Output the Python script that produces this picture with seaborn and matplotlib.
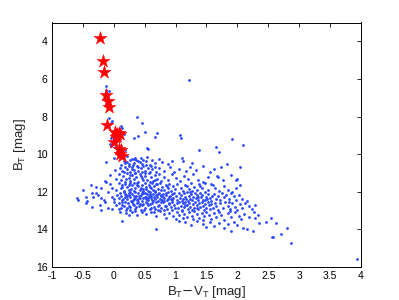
import seaborn as sns
import matplotlib.pyplot as plt
import pandas as pd

# Red stars (B_T - V_T, B_T)
red_stars = [(-0.22, 3.85), (-0.18, 5.03), (-0.16, 5.63), (-0.13, 6.84), (-0.10, 7.18),
             (-0.08, 7.50), (-0.11, 8.45), (0.02, 8.80), (0.05, 8.95), (0.08, 8.85),
             (0.04, 9.10), (0.10, 8.95), (0.00, 9.35), (0.08, 9.70), (0.12, 9.80),
             (0.10, 10.00), (0.13, 10.10), (0.06, 9.05)]

# field stars, upper branch and sparse upper part
branch = [(-0.12, 6.38), (-0.13, 6.57), (-0.08, 6.66), (-0.14, 7.05), (-0.11, 7.3), (-0.07, 8.08),
          (-0.03, 8.22), (-0.05, 8.35), (0.12, 8.52), (0.13, 8.62), (0.15, 8.80), (0.16, 8.93),
          (-0.04, 9.12), (-0.06, 9.45), (-0.05, 9.57), (0.18, 9.76), (0.22, 10.10), (0.29, 10.24),
          (0.32, 10.26), (0.32, 9.14), (0.38, 8.0), (0.40, 9.05), (0.35, 10.2), (1.22, 6.04),
          (0.46, 8.33), (0.50, 8.82), (0.70, 8.88), (0.67, 9.09), (1.07, 9.0), (1.08, 9.16),
          (0.54, 9.67), (0.55, 9.70), (1.38, 9.76), (0.44, 10.22), (0.54, 10.15), (0.73, 10.26),
          (1.11, 10.19), (1.91, 9.2), (1.65, 9.6), (2.09, 9.53), (1.71, 9.89), (0.02, 9.6),
          (0.05, 9.9), (0.0, 10.2), (-0.13, 10.42)]

band_a = [(0.16, 10.35), (0.21, 10.41), (0.27, 10.33), (0.33, 10.47), (0.39, 10.38), (0.45, 10.52),
          (0.24, 10.55), (0.18, 10.49), (0.52, 10.36), (0.58, 10.58), (0.31, 10.58), (0.42, 10.44),
          (0.12, 10.56), (0.48, 10.30), (0.66, 10.45), (0.78, 10.40), (0.95, 10.35), (1.12, 10.38),
          (1.26, 10.47), (0.88, 10.55), (1.45, 10.63), (1.73, 10.68), (1.83, 10.54), (2.04, 10.68),
          (0.62, 10.31), (0.36, 10.30)]

band_b = [(0.10, 10.72), (0.14, 10.88), (0.19, 10.66), (0.22, 10.80), (0.26, 10.95), (0.29, 10.70),
          (0.33, 10.85), (0.37, 10.62), (0.40, 10.92), (0.44, 10.75), (0.47, 10.64), (0.51, 10.88),
          (0.55, 10.71), (0.58, 10.97), (0.62, 10.80), (0.66, 10.66), (0.69, 10.93), (0.24, 10.62),
          (0.35, 10.98), (0.45, 10.96), (0.17, 10.95), (0.30, 10.78), (0.53, 10.60), (0.74, 10.72),
          (0.82, 10.88), (0.91, 10.68), (0.98, 10.95), (1.06, 10.78), (1.17, 10.92), (1.24, 10.70),
          (1.33, 10.85), (1.55, 10.95), (1.62, 10.80), (0.02, 10.86), (0.39, 10.70), (0.60, 10.64)]

band_c = [(-0.14, 11.45), (-0.06, 11.13), (0.03, 11.30), (0.08, 11.05), (0.12, 11.38), (0.15, 11.18),
          (0.18, 11.48), (0.21, 11.02), (0.24, 11.26), (0.27, 11.42), (0.30, 11.10), (0.33, 11.33),
          (0.36, 11.20), (0.39, 11.47), (0.42, 11.05), (0.45, 11.28), (0.48, 11.40), (0.51, 11.15),
          (0.54, 11.36), (0.57, 11.02), (0.60, 11.24), (0.63, 11.45), (0.66, 11.12), (0.70, 11.31),
          (0.74, 11.08), (0.77, 11.44), (0.20, 11.30), (0.35, 11.00), (0.44, 11.16), (0.58, 11.48),
          (0.26, 11.12), (0.50, 11.02), (0.67, 11.35), (0.82, 11.20), (0.88, 11.38), (0.94, 11.06),
          (1.00, 11.28), (1.07, 11.45), (1.13, 11.15), (1.20, 11.33), (1.28, 11.08), (1.36, 11.40),
          (1.45, 11.48), (1.52, 11.22), (1.67, 11.18), (1.69, 11.22), (1.77, 11.35), (1.89, 11.12),
          (1.97, 11.36), (1.99, 11.30)]

band_d = [(-0.49, 11.89), (-0.36, 11.66), (-0.20, 11.80), (-0.13, 11.50), (-0.06, 11.60), (0.04, 11.92),
          (-0.28, 11.72), (-0.02, 11.78),
          (0.08, 11.55), (0.11, 11.82), (0.14, 11.64), (0.17, 11.95), (0.19, 11.58), (0.22, 11.73),
          (0.25, 11.88), (0.27, 11.52), (0.30, 11.66), (0.32, 11.97), (0.35, 11.80), (0.37, 11.56),
          (0.40, 11.70), (0.42, 11.90), (0.45, 11.62), (0.47, 11.84), (0.50, 11.53), (0.52, 11.76),
          (0.55, 11.94), (0.57, 11.65), (0.60, 11.82), (0.62, 11.55), (0.65, 11.71), (0.67, 11.98),
          (0.70, 11.60), (0.72, 11.86), (0.75, 11.52), (0.78, 11.75), (0.81, 11.92), (0.84, 11.62),
          (0.87, 11.80), (0.90, 11.57), (0.93, 11.96), (0.96, 11.68), (0.99, 11.85), (0.13, 11.75),
          (0.28, 11.83), (0.38, 11.62), (0.48, 11.98), (0.58, 11.72), (0.68, 11.58), (0.77, 11.88),
          (0.33, 11.52), (0.53, 11.86), (0.24, 11.62), (0.44, 11.78), (0.63, 11.90), (0.86, 11.70),
          (1.03, 11.58), (1.08, 11.78), (1.12, 11.95), (1.16, 11.62), (1.21, 11.85), (1.25, 11.53),
          (1.30, 11.72), (1.34, 11.92), (1.38, 11.60), (1.43, 11.80), (1.47, 11.56), (1.52, 11.90),
          (1.57, 11.60), (1.60, 11.62), (1.18, 11.70), (1.27, 11.98), (1.40, 11.70), (1.63, 11.82),
          (1.70, 11.95), (1.78, 11.68), (1.85, 11.88), (1.98, 11.80), (2.05, 11.65)]

band_e = [(-0.60, 12.33), (-0.58, 12.42), (-0.45, 12.28), (-0.43, 12.49), (-0.35, 12.05), (-0.33, 12.28),
          (-0.28, 12.07), (-0.25, 12.19), (-0.16, 12.45), (-0.10, 12.03), (-0.03, 12.28), (0.00, 12.40),
          (-0.20, 12.32), (0.05, 12.15),
          (0.08, 12.35), (0.10, 12.08), (0.12, 12.22), (0.14, 12.46), (0.16, 12.02), (0.18, 12.30),
          (0.20, 12.15), (0.22, 12.40), (0.24, 12.06), (0.26, 12.27), (0.28, 12.48), (0.30, 12.12),
          (0.32, 12.36), (0.34, 12.01), (0.36, 12.22), (0.38, 12.44), (0.40, 12.09), (0.42, 12.31),
          (0.44, 12.18), (0.46, 12.47), (0.48, 12.04), (0.50, 12.26), (0.52, 12.39), (0.54, 12.13),
          (0.56, 12.33), (0.58, 12.00), (0.60, 12.21), (0.62, 12.45), (0.64, 12.10), (0.66, 12.37),
          (0.68, 12.16), (0.70, 12.29), (0.72, 12.49), (0.74, 12.05), (0.76, 12.24), (0.78, 12.42),
          (0.80, 12.11), (0.82, 12.34), (0.84, 12.19), (0.86, 12.46), (0.88, 12.02), (0.90, 12.28),
          (0.92, 12.40), (0.94, 12.14), (0.96, 12.32), (0.98, 12.07), (0.15, 12.38), (0.25, 12.18),
          (0.35, 12.32), (0.45, 12.08), (0.55, 12.46), (0.65, 12.26), (0.75, 12.36), (0.85, 12.09),
          (0.95, 12.43), (0.21, 12.25), (0.31, 12.45), (0.41, 12.20), (0.51, 12.05), (0.61, 12.33),
          (0.71, 12.12), (0.81, 12.47), (0.91, 12.20), (0.19, 12.10), (0.39, 12.37), (0.59, 12.14),
          (0.79, 12.30), (0.47, 12.35), (0.67, 12.02), (0.87, 12.38), (0.27, 12.00), (0.57, 12.24),
          (0.77, 12.17), (0.33, 12.25), (0.53, 12.30),
          (1.01, 12.25), (1.03, 12.44), (1.05, 12.05), (1.07, 12.33), (1.09, 12.17), (1.11, 12.48),
          (1.13, 12.09), (1.15, 12.29), (1.17, 12.40), (1.19, 12.02), (1.21, 12.22), (1.23, 12.37),
          (1.25, 12.12), (1.27, 12.46), (1.29, 12.28), (1.31, 12.06), (1.33, 12.35), (1.35, 12.19),
          (1.37, 12.44), (1.39, 12.08), (1.41, 12.30), (1.43, 12.15), (1.45, 12.42), (1.47, 12.03),
          (1.49, 12.26), (1.51, 12.38), (1.53, 12.11), (1.55, 12.32), (1.57, 12.47), (1.59, 12.20),
          (1.12, 12.36), (1.24, 12.03), (1.36, 12.29), (1.48, 12.45), (1.20, 12.48),
          (1.62, 12.10), (1.65, 12.38), (1.68, 12.22), (1.72, 12.46), (1.75, 12.05), (1.78, 12.30),
          (1.82, 12.15), (1.86, 12.40), (1.90, 12.08), (1.94, 12.25), (1.98, 12.44), (2.02, 12.18),
          (2.08, 12.36), (2.15, 12.50), (1.92, 12.00)]

band_f = [(-0.22, 12.72), (-0.09, 12.84), (-0.02, 12.91), (0.00, 12.54), (-0.45, 12.60), (-0.35, 12.80),
          (-0.20, 12.98), (-0.14, 12.56), (0.04, 12.70),
          (0.08, 12.62), (0.11, 12.88), (0.14, 12.55), (0.17, 12.76), (0.20, 12.95), (0.23, 12.60),
          (0.26, 12.82), (0.29, 12.52), (0.32, 12.70), (0.35, 12.92), (0.38, 12.58), (0.41, 12.78),
          (0.44, 12.97), (0.47, 12.64), (0.50, 12.85), (0.53, 12.53), (0.56, 12.73), (0.59, 12.94),
          (0.62, 12.61), (0.65, 12.80), (0.68, 12.55), (0.71, 12.98), (0.74, 12.68), (0.77, 12.87),
          (0.80, 12.57), (0.83, 12.75), (0.86, 12.93), (0.89, 12.63), (0.92, 12.83), (0.95, 12.54),
          (0.98, 12.72), (0.13, 12.70), (0.22, 12.86), (0.31, 12.64), (0.40, 12.56), (0.49, 12.96),
          (0.58, 12.66), (0.67, 12.90), (0.76, 12.52), (0.85, 12.78), (0.94, 12.99), (0.18, 12.53),
          (0.36, 12.80), (0.54, 12.62), (0.72, 12.77), (0.90, 12.58), (0.27, 12.98), (0.45, 12.72),
          (0.63, 12.51), (0.81, 12.96), (0.99, 12.88), (0.09, 12.93), (0.60, 12.84), (0.42, 12.66),
          (0.24, 12.74),
          (1.02, 12.60), (1.04, 12.85), (1.06, 12.53), (1.08, 12.74), (1.10, 12.95), (1.12, 12.62),
          (1.14, 12.82), (1.16, 12.55), (1.18, 12.70), (1.20, 12.91), (1.22, 12.58), (1.24, 12.79),
          (1.26, 12.98), (1.28, 12.65), (1.30, 12.86), (1.32, 12.52), (1.34, 12.72), (1.36, 12.93),
          (1.38, 12.61), (1.40, 12.81), (1.42, 12.56), (1.44, 12.75), (1.46, 12.96), (1.48, 12.64),
          (1.50, 12.84), (1.52, 12.54), (1.54, 12.71), (1.56, 12.92), (1.58, 12.67), (1.60, 12.88),
          (1.63, 12.58), (1.66, 12.78), (1.69, 12.97), (1.15, 12.68), (1.35, 12.88),
          (1.72, 12.62), (1.76, 12.85), (1.80, 12.55), (1.84, 12.74), (1.88, 12.92), (1.92, 12.60),
          (1.96, 12.80), (2.00, 12.98), (2.04, 12.66), (2.08, 12.88), (2.12, 12.58), (2.18, 12.78),
          (2.24, 12.90), (2.28, 12.70), (1.86, 12.52)]

band_g = [(0.10, 13.05), (0.20, 13.15), (0.30, 13.08), (0.38, 13.25), (0.45, 13.05), (0.52, 13.18),
          (0.60, 13.10), (0.68, 13.28), (0.75, 13.02), (0.82, 13.20), (0.90, 13.12), (0.96, 13.30),
          (0.35, 13.02), (0.65, 13.06), (0.25, 13.22),
          (1.02, 13.08), (1.06, 13.25), (1.10, 13.04), (1.14, 13.18), (1.18, 13.35), (1.22, 13.10),
          (1.26, 13.28), (1.30, 13.02), (1.34, 13.20), (1.38, 13.42), (1.42, 13.12), (1.46, 13.30),
          (1.50, 13.06), (1.54, 13.22), (1.58, 13.45), (1.62, 13.14), (1.66, 13.32), (1.70, 13.05),
          (1.74, 13.25), (1.78, 13.48), (1.12, 13.40), (1.28, 13.45), (1.44, 13.48), (0.85, 13.38),
          (1.00, 13.45),
          (1.84, 13.15), (1.90, 13.35), (1.96, 13.08), (2.02, 13.28), (2.10, 13.20), (2.27, 13.09),
          (2.28, 13.40), (2.18, 13.32), (2.06, 13.45), (1.88, 13.02), (2.34, 13.22)]

band_h = [(0.14, 13.55), (0.69, 13.98), (1.15, 13.60), (1.25, 13.75), (1.35, 13.58), (1.45, 13.70),
          (1.55, 13.62), (1.62, 13.80), (1.70, 13.66), (1.78, 13.90), (1.85, 13.72), (1.89, 14.10),
          (1.95, 13.60), (2.09, 13.90), (2.15, 14.00), (2.26, 14.10), (2.46, 13.59), (2.55, 13.39),
          (2.62, 13.66), (2.80, 13.92), (2.56, 14.40), (2.58, 14.42), (2.70, 14.27), (2.86, 14.72),
          (3.93, 15.57), (2.00, 13.75), (2.35, 13.65), (1.50, 13.85), (1.05, 13.55)]

x_ticks = [-1, -0.5, 0, 0.5, 1, 1.5, 2, 2.5, 3, 3.5, 4]
x_tick_labels = ["-1", "-0.5", "0", "0.5", "1", "1.5", "2", "2.5", "3", "3.5", "4"]
y_ticks = [4, 6, 8, 10, 12, 14, 16]

sns.set_style("white")
plt.rcParams["font.family"] = ["Liberation Sans", "DejaVu Sans"]
plt.rcParams["axes.unicode_minus"] = False

field = branch + band_a + band_b + band_c + band_d + band_e + band_f + band_g + band_h
field_df = pd.DataFrame(field, columns=["bv", "bt"])
red_df = pd.DataFrame(red_stars, columns=["bv", "bt"])

fig = plt.figure(figsize=(3.99, 3.0), dpi=100)
ax = fig.add_axes([0.13, 0.11, 0.775, 0.815])

sns.scatterplot(data=field_df, x="bv", y="bt", ax=ax, color="#2a48ff", s=4,
                linewidth=0, marker="o")
sns.scatterplot(data=red_df, x="bv", y="bt", ax=ax, color="red", s=100,
                linewidth=0.3, edgecolor="red", marker="*", zorder=3)

ax.set_xlim(-1, 4)
ax.set_ylim(16, 3)
ax.set_xticks(x_ticks, x_tick_labels)
ax.set_yticks(y_ticks, [str(t) for t in y_ticks])
ax.tick_params(direction="in", length=3, width=0.6, top=True, right=True,
               labelsize=7.5, colors="black", pad=3)
for sp in ax.spines.values():
    sp.set_color("black")
    sp.set_linewidth(0.7)

ax.set_xlabel("B$_\\mathregular{T}$$-$V$_\\mathregular{T}$ [mag]", fontsize=9.5, labelpad=2)
ax.set_ylabel("B$_\\mathregular{T}$ [mag]", fontsize=9.5, labelpad=6)

fig.savefig("out.png", dpi=100)
